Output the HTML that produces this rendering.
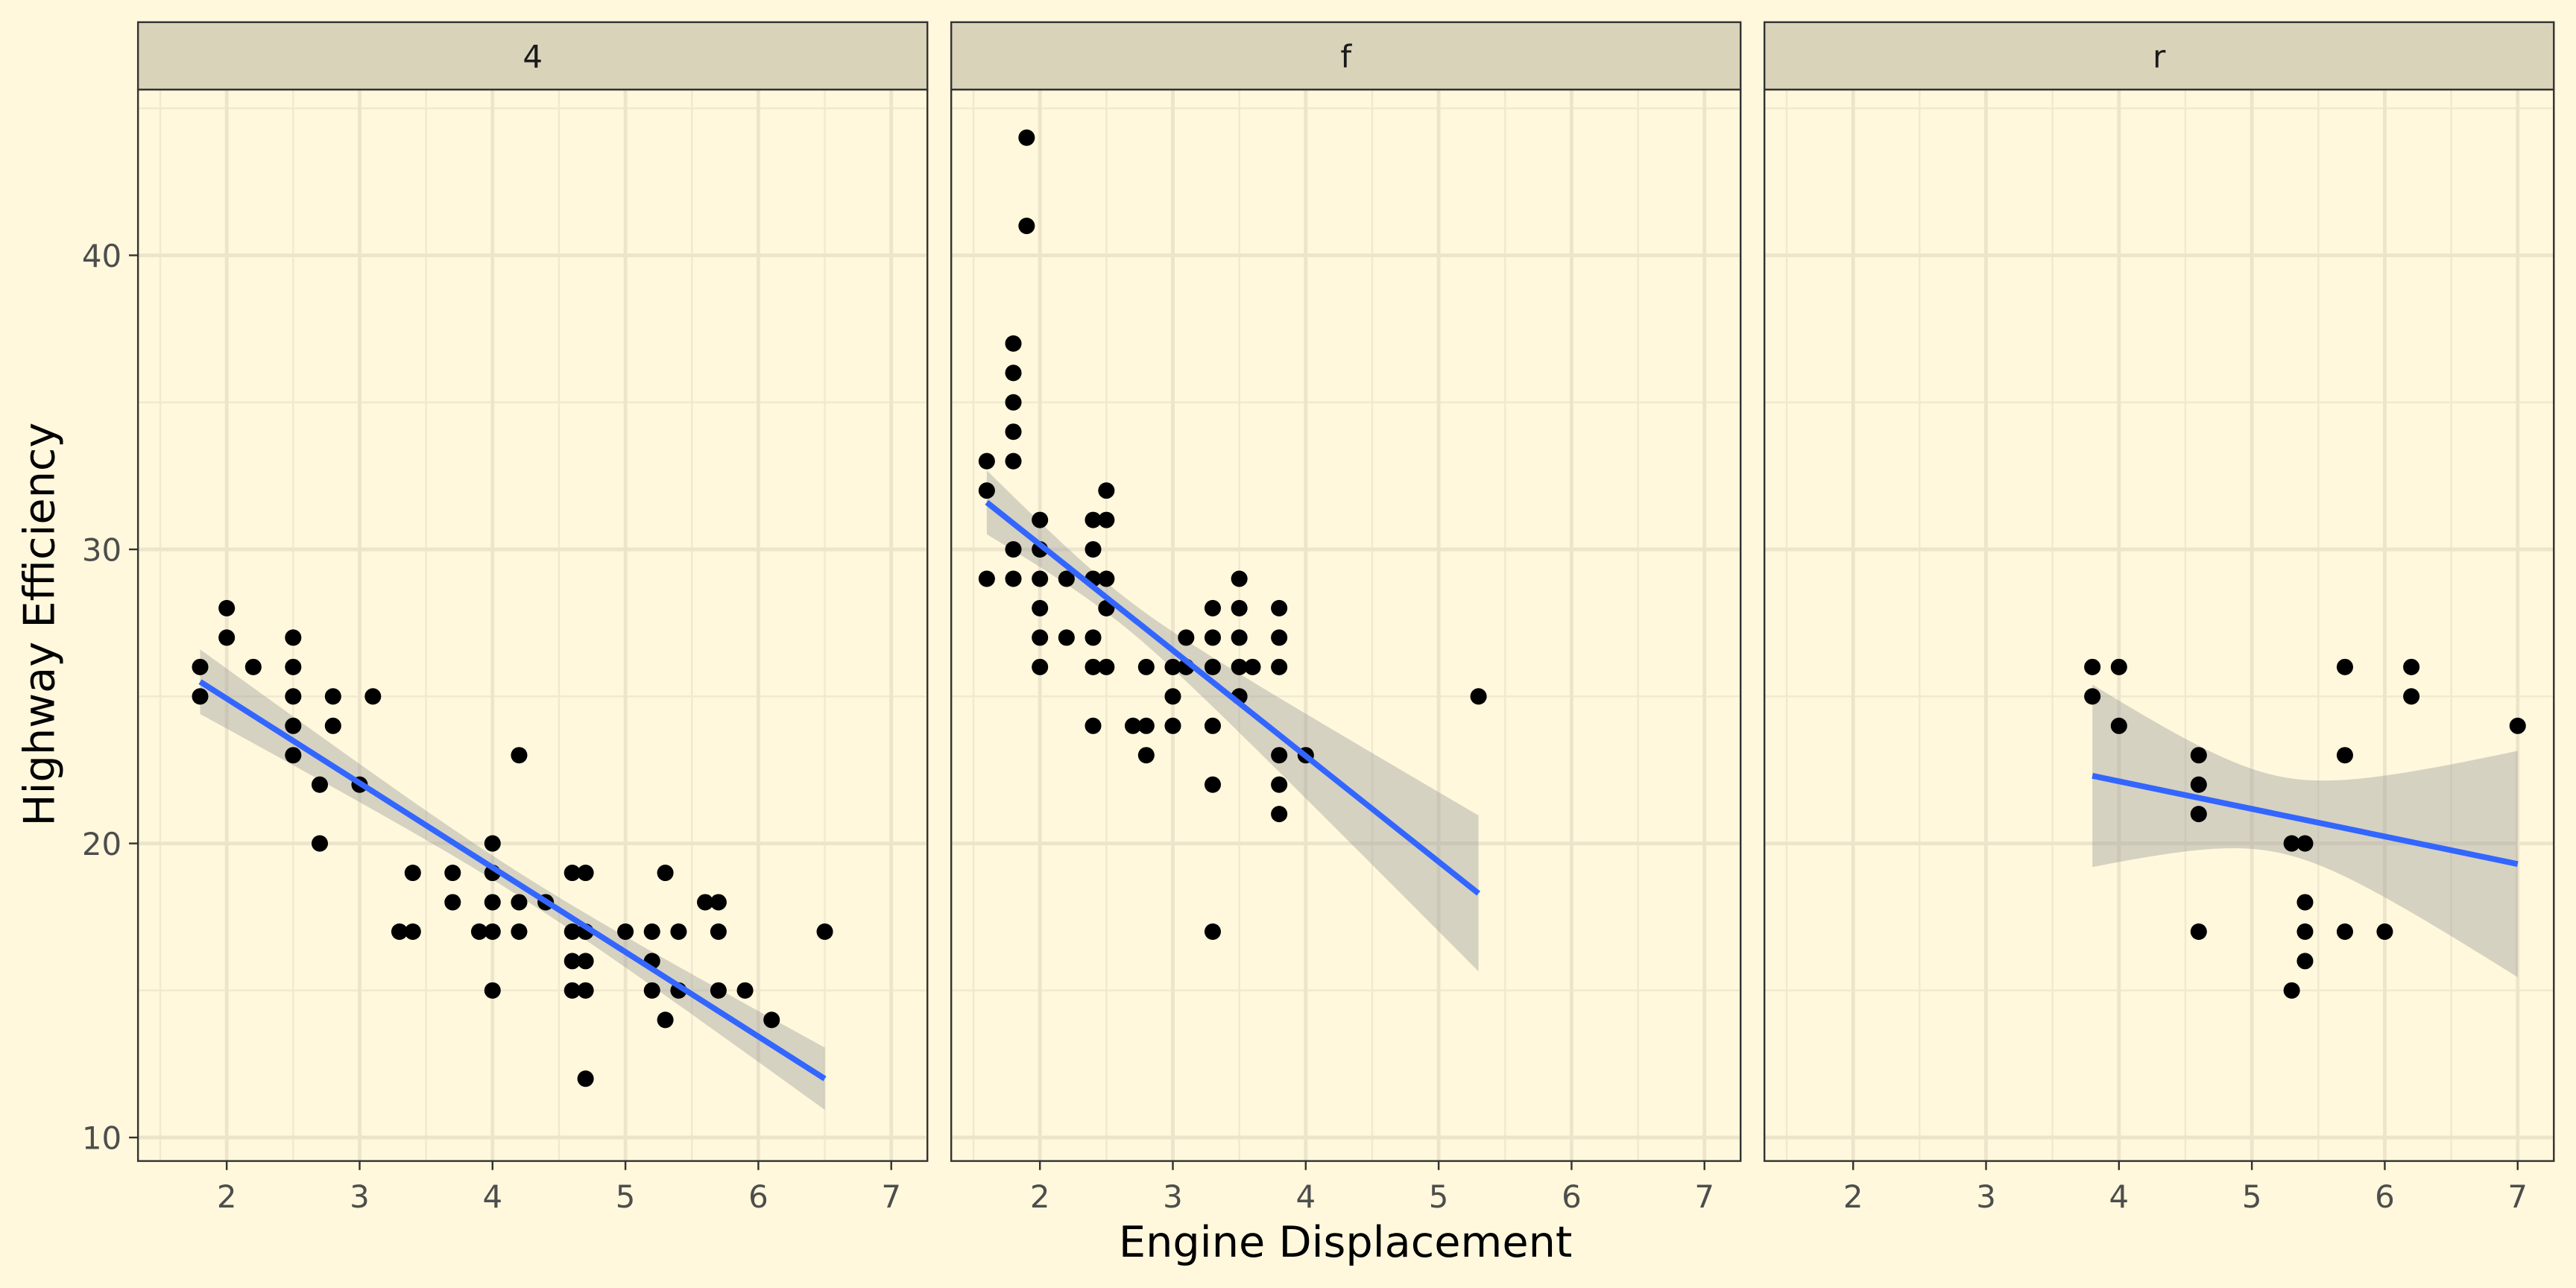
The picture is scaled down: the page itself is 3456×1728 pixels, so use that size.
<!DOCTYPE html>
<html><head><meta charset="utf-8">
<style>
html,body{margin:0;padding:0;background:#FFF8DC;}
svg{display:block;}
text{font-family:"DejaVu Sans","Liberation Sans",sans-serif;}
</style></head>
<body>
<svg id="s" xmlns="http://www.w3.org/2000/svg" width="3456" height="1728" viewBox="0 0 1568 784">
<rect width="1568" height="784" fill="#FFF8DC"/>
</svg>
<script>
const s=document.getElementById('s');
const NS='http://www.w3.org/2000/svg';
function el(t,a,txt){const e=document.createElementNS(NS,t);for(const k in a)e.setAttribute(k,a[k]);if(txt!==undefined)e.textContent=txt;s.appendChild(e);return e;}
const panels=[
{x0:84,lab:'4',line:[1.8,25.5,6.5,12],m:4.2,a:0.16,b:0.182,xr:[1.8,6.5],
pts:[[1.8,26],[1.8,25],[2,28],[2,27],[2.2,26],[2.5,27],[2.5,26],[2.5,25],[2.5,24],[2.5,23],[2.7,22],[2.7,20],[2.8,25],[2.8,24],[3,22],[3.1,25],[3.3,17],[3.4,19],[3.4,17],[3.7,19],[3.7,18],[3.9,17],[4,20],[4,19],[4,18],[4,17],[4,15],[4.2,23],[4.2,18],[4.2,17],[4.4,18],[4.6,19],[4.6,17],[4.6,16],[4.6,15],[4.7,19],[4.7,17],[4.7,16],[4.7,15],[4.7,12],[5,17],[5.2,17],[5.2,16],[5.2,15],[5.3,19],[5.3,14],[5.4,17],[5.4,15],[5.6,18],[5.7,18],[5.7,17],[5.7,15],[5.9,15],[6.1,14],[6.5,17]]},
{x0:579,lab:'f',line:[1.6,31.6,5.3,18.3],m:2.6,a:0.25,b:0.93,xr:[1.6,5.3],
pts:[[1.6,33],[1.6,32],[1.6,29],[1.8,37],[1.8,36],[1.8,35],[1.8,34],[1.8,33],[1.8,30],[1.8,29],[1.9,44],[1.9,41],[2,31],[2,30],[2,29],[2,28],[2,27],[2,26],[2.2,29],[2.2,27],[2.4,31],[2.4,30],[2.4,29],[2.4,27],[2.4,26],[2.4,24],[2.5,32],[2.5,31],[2.5,29],[2.5,28],[2.5,26],[2.7,24],[2.8,26],[2.8,24],[2.8,23],[3,26],[3,25],[3,24],[3.1,27],[3.1,26],[3.3,28],[3.3,27],[3.3,26],[3.3,24],[3.3,22],[3.3,17],[3.5,29],[3.5,28],[3.5,27],[3.5,26],[3.5,25],[3.6,26],[3.8,28],[3.8,27],[3.8,26],[3.8,23],[3.8,22],[3.8,21],[4,23],[5.3,25]]},
{x0:1074,lab:'r',line:[3.8,22.3,7,19.3],m:5.2,a:1.69,b:4.05,xr:[3.8,7],
pts:[[3.8,26],[3.8,25],[4,26],[4,24],[4.6,23],[4.6,22],[4.6,21],[4.6,17],[5.3,20],[5.3,15],[5.4,20],[5.4,18],[5.4,17],[5.4,16],[5.7,26],[5.7,23],[5.7,17],[6,17],[6.2,26],[6.2,25],[7,24]]}
];
const W=480.5,T=54.5,B=706.7;
const Y=v=>692.4-(v-10)*17.9;
panels.forEach(p=>{
 const X=v=>p.x0+54+(v-2)*80.9;
 el('rect',{x:p.x0,y:T,width:W,height:B-T,fill:'#FFF8DC'});
 for(let v=15;v<=45;v+=10)el('line',{x1:p.x0,x2:p.x0+W,y1:Y(v),y2:Y(v),stroke:'#F0E9D0','stroke-width':1.1});
 for(let v=1.5;v<=7.5;v+=1){const xx=X(v);if(xx>p.x0&&xx<p.x0+W)el('line',{x1:xx,x2:xx,y1:T,y2:B,stroke:'#F0E9D0','stroke-width':1.1});}
 for(let v=10;v<=40;v+=10)el('line',{x1:p.x0,x2:p.x0+W,y1:Y(v),y2:Y(v),stroke:'#EDE5CB','stroke-width':2.2});
 for(let v=2;v<=7;v++)el('line',{x1:X(v),x2:X(v),y1:T,y2:B,stroke:'#EDE5CB','stroke-width':2.2});
 const [x1,y1,x2,y2]=p.line;const sl=(y2-y1)/(x2-x1);
 let up=[],dn=[];
 for(let i=0;i<=60;i++){const x=p.xr[0]+(p.xr[1]-p.xr[0])*i/60;const y=y1+sl*(x-x1);const w=Math.sqrt(p.a+p.b*(x-p.m)*(x-p.m));up.push(X(x).toFixed(2)+','+Y(y+w).toFixed(2));dn.unshift(X(x).toFixed(2)+','+Y(y-w).toFixed(2));}
 el('polygon',{points:up.concat(dn).join(' '),fill:'#999999','fill-opacity':0.4});
 p.pts.forEach(q=>el('circle',{cx:X(q[0]),cy:Y(q[1]),r:5,fill:'#000'}));
 el('line',{x1:X(x1),y1:Y(y1),x2:X(x2),y2:Y(y2),stroke:'#3366FF','stroke-width':3.5});
 el('rect',{x:p.x0,y:T,width:W,height:B-T,fill:'none',stroke:'#333333','stroke-width':1.1});
 el('rect',{x:p.x0,y:13.5,width:W,height:41,fill:'#D9D3BA',stroke:'#333333','stroke-width':1.1});
 el('text',{x:p.x0+W/2,y:41,'text-anchor':'middle','font-size':19,fill:'#1A1A1A'},p.lab);
 for(let v=2;v<=7;v++){el('line',{x1:X(v),x2:X(v),y1:B,y2:B+5.5,stroke:'#333333','stroke-width':1.1});
  el('text',{x:X(v),y:735,'text-anchor':'middle','font-size':19,fill:'#4D4D4D'},String(v));}
});
for(let v=10;v<=40;v+=10){el('line',{x1:78.5,x2:84,y1:Y(v),y2:Y(v),stroke:'#333333','stroke-width':1.1});
 el('text',{x:74,y:Y(v)+7,'text-anchor':'end','font-size':19,fill:'#4D4D4D'},String(v));}
el('text',{x:819,y:765,'text-anchor':'middle','font-size':26,fill:'#000'},'Engine Displacement');
el('text',{x:0,y:0,'text-anchor':'middle','font-size':26,fill:'#000',transform:'translate(33,380) rotate(-90)'},'Highway Efficiency');
</script>
</body></html>
